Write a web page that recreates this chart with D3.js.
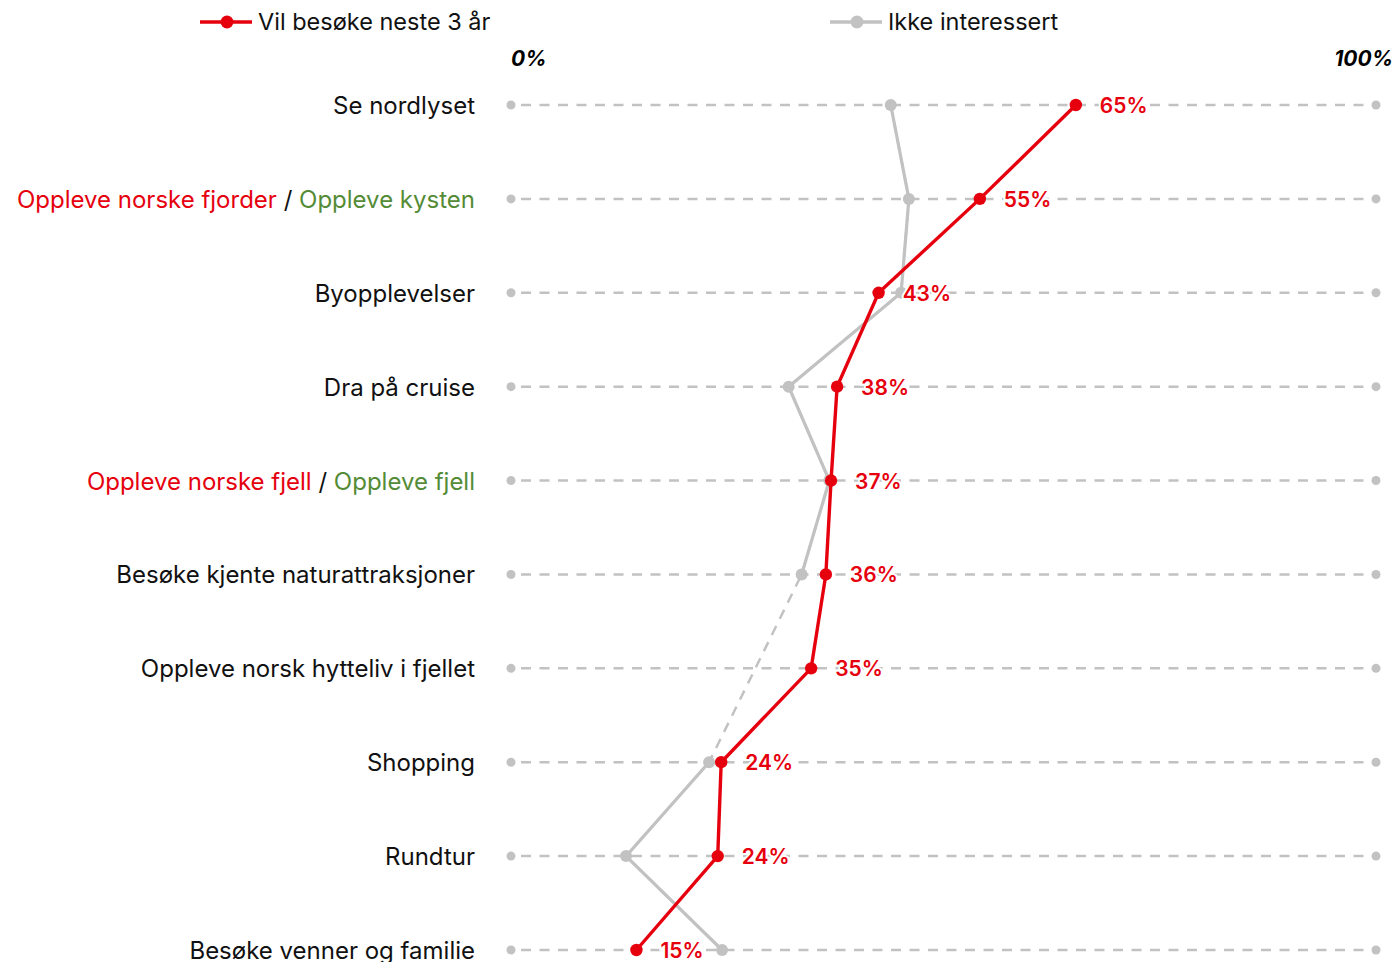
<!DOCTYPE html>
<html>
<head>
<meta charset="utf-8">
<script src="https://cdn.jsdelivr.net/npm/d3@7"></script>
<style>
  body { margin: 0; background: #fff; }
  svg { display: block; font-family: Inter, "Noto Sans", sans-serif; }
</style>
</head>
<body>
<script>
var width = 1397,
    height = 962;

// categories, top to bottom; split ones carry a red and a green part
var categories = [
  ["Se nordlyset"],
  ["Oppleve norske fjorder", "Oppleve kysten"],
  ["Byopplevelser"],
  ["Dra på cruise"],
  ["Oppleve norske fjell", "Oppleve fjell"],
  ["Besøke kjente naturattraksjoner"],
  ["Oppleve norsk hytteliv i fjellet"],
  ["Shopping"],
  ["Rundtur"],
  ["Besøke venner og familie"]
];
var visit = [65.3, 54.2, 42.5, 37.7, 37.0, 36.4, 34.7, 24.3, 23.9, 14.5];
var visitLabels = ["65%", "55%", "43%", "38%", "37%", "36%", "35%", "24%", "24%", "15%"];
var notInterested = [43.9, 46.0, 45.1, 32.1, 36.8, 33.6, null, 22.9, 13.3, 24.4];
var seriesNames = ["Vil besøke neste 3 år", "Ikke interessert"];

var red = "#e6000e", grey = "#c2c2c2", green = "#548b36";

var x = d3.scaleLinear().domain([0, 100]).range([511, 1376]);
var y = d3.scalePoint().domain(d3.range(categories.length)).range([105, 950]);

var svg = d3.select("body").append("svg")
    .attr("width", width)
    .attr("height", height);

// grid rows
var grid = svg.append("g");
grid.selectAll("line").data(categories).enter().append("line")
    .attr("x1", x(0)).attr("x2", x(100))
    .attr("y1", function(d, i) { return y(i); })
    .attr("y2", function(d, i) { return y(i); })
    .attr("stroke", grey).attr("stroke-width", 2.5)
    .attr("stroke-dasharray", "10,8.5")
    .attr("stroke-dashoffset", -10);
[0, 100].forEach(function(v) {
  grid.selectAll(null).data(categories).enter().append("circle")
      .attr("cx", x(v)).attr("cy", function(d, i) { return y(i); })
      .attr("r", 4.5).attr("fill", grey);
});

// axis labels
svg.append("text").attr("x", x(0)).attr("y", 66)
    .attr("font-size", 21).attr("font-weight", 700).attr("font-style", "italic")
    .text("0%");
svg.append("text").attr("x", 1393).attr("y", 66).attr("text-anchor", "end")
    .attr("font-size", 21).attr("font-weight", 700).attr("font-style", "italic")
    .text("100%");

// category labels
var labels = svg.append("g").selectAll("text").data(categories).enter().append("text")
    .attr("x", 475).attr("y", function(d, i) { return y(i) + 9; })
    .attr("text-anchor", "end").attr("font-size", 24).attr("fill", "#111");
labels.each(function(d) {
  var t = d3.select(this);
  if (d.length === 1) { t.text(d[0]); return; }
  t.append("tspan").attr("fill", red).text(d[0]);
  t.append("tspan").attr("fill", "#111").text(" / ");
  t.append("tspan").attr("fill", green).text(d[1]);
});

var line = d3.line()
    .defined(function(d) { return d != null; })
    .x(function(d) { return x(d); })
    .y(function(d, i) { return y(i); });

// grey series, with a dashed bridge over the missing value
var greyPts = notInterested.map(function(v, i) { return v == null ? null : [x(v), y(i)]; })
    .filter(function(p) { return p; });
svg.append("path")
    .attr("d", d3.line()(greyPts))
    .attr("fill", "none").attr("stroke", grey).attr("stroke-width", 2.5)
    .attr("stroke-dasharray", "10,8");
svg.append("path")
    .attr("d", line(notInterested))
    .attr("fill", "none").attr("stroke", grey).attr("stroke-width", 3.2);
svg.append("g").selectAll("circle").data(notInterested).enter()
  .filter(function(d) { return d != null; })
  .append("circle")
    .attr("cx", function(d) { return x(d); })
    .attr("cy", function(d) { return y(notInterested.indexOf(d)); })
    .attr("r", 6).attr("fill", grey);

// red series
svg.append("path")
    .attr("d", line(visit))
    .attr("fill", "none").attr("stroke", red).attr("stroke-width", 3.4);
svg.append("g").selectAll("circle").data(visit).enter().append("circle")
    .attr("cx", function(d) { return x(d); })
    .attr("cy", function(d, i) { return y(i); })
    .attr("r", 6.2).attr("fill", red);

// value labels, white halo over grid
var vl = svg.append("g").selectAll("text").data(visit).enter().append("text")
    .attr("x", function(d) { return x(d) + 24; })
    .attr("y", function(d, i) { return y(i) + 8; })
    .attr("font-size", 21).attr("font-weight", 600).attr("fill", red)
    .attr("paint-order", "stroke").attr("stroke", "#fff").attr("stroke-width", 4)
    .text(function(d, i) { return visitLabels[i]; });

// legend
var legend = svg.append("g");
[[200, red], [830, grey]].forEach(function(l, i) {
  legend.append("line").attr("x1", l[0]).attr("x2", l[0] + 52)
      .attr("y1", 22).attr("y2", 22).attr("stroke", l[1]).attr("stroke-width", 3.5);
  legend.append("circle").attr("cx", l[0] + 27).attr("cy", 22).attr("r", 6.5).attr("fill", l[1]);
  legend.append("text").attr("x", l[0] + 58).attr("y", 30)
      .attr("font-size", 23.5).attr("fill", "#111").text(seriesNames[i]);
});
</script>
</body>
</html>
